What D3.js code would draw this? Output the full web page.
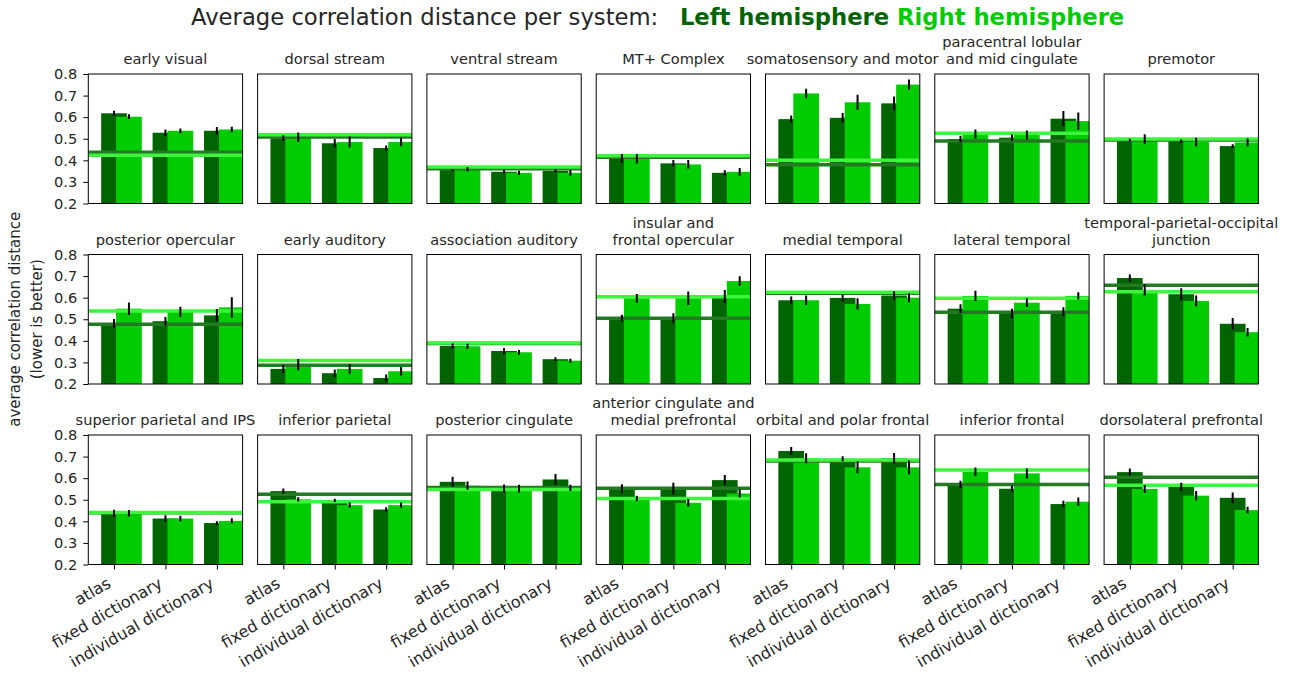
<!DOCTYPE html>
<html lang="en">
<head>
<meta charset="UTF-8">
<title>Average correlation distance per system</title>
<script src="https://d3js.org/d3.v7.min.js"></script>
<style>
  body { margin: 0; background: #fff; }
  text { font-family: "DejaVu Sans", sans-serif; fill: #262626; }
</style>
</head>
<body>
<script>
    // ---- data ----
    var systems = [
        "early visual", "dorsal stream", "ventral stream", "MT+ Complex",
        "somatosensory and motor", "paracentral lobular\nand mid cingulate", "premotor",
        "posterior opercular", "early auditory", "association auditory",
        "insular and\nfrontal opercular", "medial temporal", "lateral temporal",
        "temporal-parietal-occipital\njunction",
        "superior parietal and IPS", "inferior parietal", "posterior cingulate",
        "anterior cingulate and\nmedial prefrontal", "orbital and polar frontal",
        "inferior frontal", "dorsolateral prefrontal"
    ];
    var methods = ["atlas", "fixed dictionary", "individual dictionary"];

    var leftMeans = [
        [0.618, 0.528, 0.537], [0.502, 0.479, 0.457], [0.355, 0.347, 0.352],
        [0.409, 0.386, 0.342], [0.591, 0.597, 0.664], [0.499, 0.505, 0.593],
        [0.494, 0.489, 0.466],
        [0.481, 0.491, 0.518], [0.270, 0.250, 0.228], [0.376, 0.353, 0.315],
        [0.505, 0.505, 0.605], [0.588, 0.599, 0.610], [0.549, 0.527, 0.535],
        [0.691, 0.616, 0.479],
        [0.437, 0.413, 0.392], [0.540, 0.497, 0.455], [0.583, 0.553, 0.594],
        [0.551, 0.551, 0.591], [0.726, 0.690, 0.692], [0.571, 0.551, 0.480],
        [0.628, 0.559, 0.509]
    ];
    var rightMeans = [
        [0.602, 0.537, 0.543], [0.507, 0.485, 0.485], [0.358, 0.342, 0.342],
        [0.407, 0.381, 0.347], [0.710, 0.669, 0.751], [0.522, 0.517, 0.582],
        [0.499, 0.485, 0.483],
        [0.549, 0.535, 0.555], [0.290, 0.270, 0.259], [0.375, 0.347, 0.308],
        [0.597, 0.597, 0.677], [0.588, 0.571, 0.600], [0.608, 0.577, 0.608],
        [0.636, 0.585, 0.440],
        [0.437, 0.413, 0.402], [0.502, 0.475, 0.475], [0.565, 0.552, 0.555],
        [0.506, 0.486, 0.529], [0.692, 0.650, 0.650], [0.630, 0.622, 0.491],
        [0.550, 0.519, 0.452]
    ];
    var leftErrs = [
        [0.012, 0.015, 0.017], [0.013, 0.020, 0.012], [0.004, 0.008, 0.007],
        [0.020, 0.015, 0.012], [0.017, 0.022, 0.032], [0.015, 0.015, 0.035],
        [0.006, 0.008, 0.009],
        [0.020, 0.020, 0.029], [0.019, 0.017, 0.016], [0.012, 0.014, 0.009],
        [0.016, 0.023, 0.030], [0.017, 0.016, 0.020], [0.020, 0.022, 0.021],
        [0.016, 0.028, 0.027],
        [0.017, 0.015, 0.008], [0.012, 0.008, 0.010], [0.023, 0.018, 0.025],
        [0.021, 0.028, 0.024], [0.018, 0.012, 0.025], [0.017, 0.014, 0.015],
        [0.017, 0.020, 0.025]
    ];
    var rightErrs = [
        [0.011, 0.011, 0.013], [0.022, 0.025, 0.020], [0.010, 0.010, 0.013],
        [0.022, 0.020, 0.018], [0.022, 0.035, 0.023], [0.021, 0.021, 0.040],
        [0.022, 0.020, 0.018],
        [0.029, 0.023, 0.047], [0.026, 0.022, 0.020], [0.012, 0.011, 0.009],
        [0.020, 0.031, 0.022], [0.022, 0.026, 0.021], [0.024, 0.020, 0.017],
        [0.026, 0.025, 0.020],
        [0.015, 0.013, 0.012], [0.010, 0.012, 0.012], [0.019, 0.018, 0.015],
        [0.012, 0.017, 0.018], [0.023, 0.027, 0.032], [0.020, 0.023, 0.019],
        [0.018, 0.022, 0.015]
    ];
    // horizontal reference lines per system
    var leftLines = [
        0.438, 0.508, 0.361, 0.414, 0.380, 0.489, 0.494,
        0.477, 0.287, 0.388, 0.505, 0.620, 0.532, 0.658,
        0.440, 0.525, 0.557, 0.553, 0.680, 0.571, 0.604
    ];
    var rightLines = [
        0.423, 0.519, 0.369, 0.421, 0.400, 0.526, 0.499,
        0.538, 0.309, 0.390, 0.604, 0.625, 0.597, 0.627,
        0.441, 0.491, 0.548, 0.506, 0.684, 0.638, 0.567
    ];
    var yTicks = [0.2, 0.3, 0.4, 0.5, 0.6, 0.7, 0.8];

    var darkGreen = "#006400", brightGreen = "#00cc00";
    var darkLine = "#237a23", brightLine = "#3df53d";

    // ---- layout ----
    var width = 1295, height = 675;
    var nCols = 7;
    var colX0 = 88.3, colStep = 169.3, panelW = 154.3;
    var rowY0 = 74, rowStep = 180.5, panelH = 129.5;

    var svg = d3.select("body").append("svg")
        .attr("width", width)
        .attr("height", height);

    var x = d3.scaleLinear().domain([-0.5, 2.5]).range([0, panelW]);
    var y = d3.scaleLinear().domain([0.2, 0.8]).range([panelH, 0]);
    var barW = x(0.5) - x(0);
    var shift = 0.29;

    systems.forEach(function(name, i) {
        var col = i % nCols, row = Math.floor(i / nCols);
        var g = svg.append("g")
            .attr("transform", "translate(" + (colX0 + col * colStep) + "," + (rowY0 + row * rowStep) + ")");

        var clipId = "clip" + i;
        g.append("clipPath").attr("id", clipId)
            .append("rect").attr("width", panelW).attr("height", panelH);
        var plot = g.append("g").attr("clip-path", "url(#" + clipId + ")");

        // bars
        plot.selectAll(".dark").data(leftMeans[i]).enter().append("rect")
            .attr("x", function(d, j) { return x(j) - barW / 2; })
            .attr("y", function(d) { return y(d); })
            .attr("width", barW)
            .attr("height", function(d) { return panelH - y(d); })
            .attr("fill", darkGreen);
        plot.selectAll(".bright").data(rightMeans[i]).enter().append("rect")
            .attr("x", function(d, j) { return x(j + shift) - barW / 2; })
            .attr("y", function(d) { return y(d); })
            .attr("width", barW)
            .attr("height", function(d) { return panelH - y(d); })
            .attr("fill", brightGreen);

        // reference lines
        plot.append("line")
            .attr("x1", 0).attr("x2", panelW)
            .attr("y1", y(leftLines[i])).attr("y2", y(leftLines[i]))
            .attr("stroke", darkLine).attr("stroke-width", 3.5);
        plot.append("line")
            .attr("x1", 0).attr("x2", panelW)
            .attr("y1", y(rightLines[i])).attr("y2", y(rightLines[i]))
            .attr("stroke", brightLine).attr("stroke-width", 3.5);

        // error bars
        plot.selectAll(".errL").data(leftMeans[i]).enter().append("line")
            .attr("x1", function(d, j) { return x(j); })
            .attr("x2", function(d, j) { return x(j); })
            .attr("y1", function(d, j) { return y(d - leftErrs[i][j]); })
            .attr("y2", function(d, j) { return y(d + leftErrs[i][j]); })
            .attr("stroke", "#000").attr("stroke-width", 2);
        plot.selectAll(".errR").data(rightMeans[i]).enter().append("line")
            .attr("x1", function(d, j) { return x(j + shift); })
            .attr("x2", function(d, j) { return x(j + shift); })
            .attr("y1", function(d, j) { return y(d - rightErrs[i][j]); })
            .attr("y2", function(d, j) { return y(d + rightErrs[i][j]); })
            .attr("stroke", "#000").attr("stroke-width", 2);

        // frame
        g.append("rect")
            .attr("width", panelW).attr("height", panelH)
            .attr("fill", "none").attr("stroke", "#000").attr("stroke-width", 1);

        // title
        var lines = name.split("\n");
        var title = g.append("text")
            .attr("text-anchor", "middle")
            .attr("font-size", 14.6)
            .attr("transform", "translate(" + panelW / 2 + "," + (-10 - (lines.length - 1) * 17) + ")");
        lines.forEach(function(t, k) {
            title.append("tspan").attr("x", 0).attr("dy", k === 0 ? 0 : 17).text(t);
        });

        // y axis on the first column
        if (col === 0) {
            var ya = g.append("g").call(d3.axisLeft(y).tickValues(yTicks).tickSize(5).tickPadding(6)
                .tickFormat(d3.format(".1f")));
            ya.select(".domain").remove();
            ya.selectAll("text").attr("font-size", 14.6).attr("fill", "#262626")
                .style("font-family", "DejaVu Sans, sans-serif");
            ya.selectAll("line").attr("stroke", "#000");
        }

        // x axis on the bottom row
        if (row === 2) {
            var xa = g.append("g").attr("transform", "translate(0," + panelH + ")")
                .call(d3.axisBottom(x).tickValues([0, 1, 2]).tickSize(5).tickFormat(""));
            xa.select(".domain").remove();
            xa.selectAll("line").attr("stroke", "#000");
            g.selectAll(".xlab").data(methods).enter().append("text")
                .attr("text-anchor", "end")
                .attr("font-size", 16)
                .attr("transform", function(d, j) {
                    return "translate(" + (x(j) - 2) + "," + (panelH + 22) + ") rotate(-30)";
                })
                .text(function(d) { return d; });
        }
    });

    // shared y label
    var yMid = rowY0 + (2 * rowStep + panelH) / 2;
    svg.append("text")
        .attr("text-anchor", "middle").attr("font-size", 15)
        .attr("transform", "translate(20," + yMid + ") rotate(-90)")
        .text("average correlation distance");
    svg.append("text")
        .attr("text-anchor", "middle").attr("font-size", 15)
        .attr("transform", "translate(42," + yMid + ") rotate(-90)")
        .text("(lower is better)");

    // figure title
    var sup = svg.append("text")
        .attr("x", 191).attr("y", 25)
        .attr("font-size", 22.7)
        .style("white-space", "pre");
    sup.append("tspan").text("Average correlation distance per system:   ");
    sup.append("tspan").attr("font-weight", "bold").style("fill", "#006400").text("Left hemisphere ");
    sup.append("tspan").attr("font-weight", "bold").style("fill", "#00cc00").text("Right hemisphere");
</script>
</body>
</html>
